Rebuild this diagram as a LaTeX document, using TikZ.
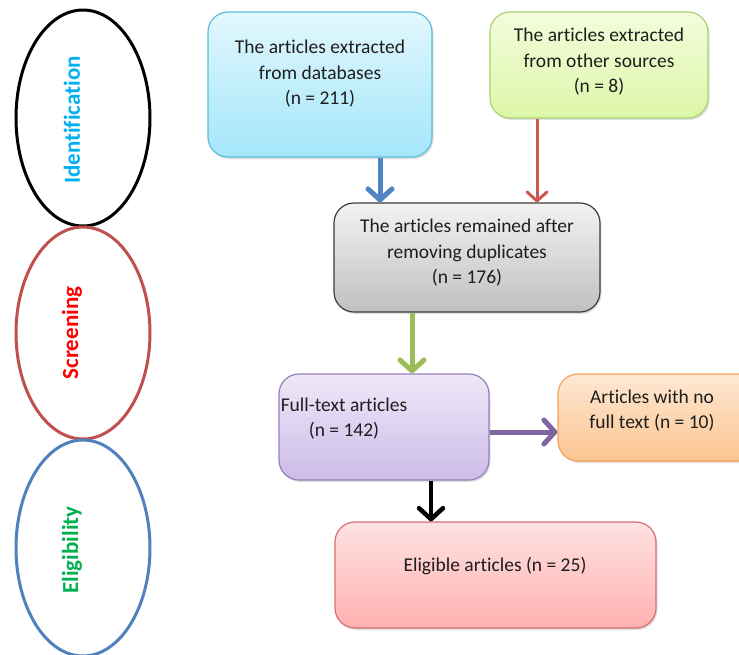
\documentclass[tikz,border=0pt]{standalone}
\usepackage{fontspec}
\setmainfont{Carlito}[Ligatures=NoCommon, RawFeature={-liga;-dlig;-clig}]
\usetikzlibrary{arrows.meta,shadows}
\definecolor{txt}{HTML}{1E1E1E}
\begin{document}
\begin{tikzpicture}[x=1pt,y=-1pt,
  box/.style={rounded corners=20pt, line width=1.2pt, inner sep=0pt,
    drop shadow={shadow xshift=1.5pt, shadow yshift=-2pt, fill=black!35, opacity=0.35}},
  btxt/.style={align=center, text=txt, font=\fontsize{19.5}{25.5}\selectfont},
  plab/.style={rotate=90, font=\bfseries\fontsize{23}{26}\selectfont},
  arr/.style={-{Straight Barb[length=11pt,width=24pt,line cap=round,line join=round]}, line width=5pt},
]
\useasboundingbox (0,0) rectangle (739,654);
% phase ellipses
\draw[line width=3pt, black] (83,118) ellipse [x radius=67, y radius=108];
\draw[line width=3pt, color={rgb,255:red,192;green,80;blue,77}] (83,333) ellipse [x radius=67, y radius=106];
\draw[line width=3pt, color={rgb,255:red,79;green,129;blue,189}] (83,548) ellipse [x radius=67, y radius=108];
\node[plab, text={rgb,255:red,0;green,176;blue,240}] (lid) at (72,120) {Identification};
\node[plab, text={rgb,255:red,255;green,0;blue,0}] (lsc) at (72,333) {Screening};
\node[plab, text={rgb,255:red,0;green,176;blue,80}] (lel) at (72,550) {Eligibility};

% boxes
\node[box, minimum width=224pt, minimum height=145pt,
  draw={rgb,255:red,90;green,190;blue,220},
  top color={rgb,255:red,226;green,247;blue,253}, bottom color={rgb,255:red,164;green,230;blue,250}]
  (A) at (320,84.5) {};
\node[btxt] (At) at (320,74) {The articles extracted\\from databases\\(n = 211)};

\node[box, minimum width=218pt, minimum height=106pt,
  draw={rgb,255:red,170;green,210;blue,110},
  top color={rgb,255:red,244;green,252;blue,220}, bottom color={rgb,255:red,220;green,247;blue,168}]
  (B) at (599,65) {};
\node[btxt] (Bt) at (599,62) {The articles extracted\\from other sources\\(n = 8)};

\node[box, minimum width=266pt, minimum height=109pt,
  draw={rgb,255:red,60;green,60;blue,60},
  top color={rgb,255:red,242;green,242;blue,242}, bottom color={rgb,255:red,192;green,192;blue,192}]
  (C) at (467,257.5) {};
\node[btxt] (Ct) at (467,253) {The articles remained after\\removing duplicates\\(n = 176)};

\node[box, minimum width=210pt, minimum height=106pt,
  draw={rgb,255:red,150;green,125;blue,190},
  top color={rgb,255:red,238;green,232;blue,248}, bottom color={rgb,255:red,204;green,188;blue,232}]
  (D) at (384,427) {};
\node[btxt] (Dt) at (344,418.5) {Full-text articles\\(n = 142)};

\node[box, minimum width=200pt, minimum height=87pt,
  draw={rgb,255:red,247;green,160;blue,90},
  top color={rgb,255:red,254;green,232;blue,212}, bottom color={rgb,255:red,251;green,196;blue,143}]
  (E) at (658,417.5) {};
\node[btxt] (Et) at (652,410.5) {Articles with no\\full text (n = 10)};

\node[box, minimum width=321pt, minimum height=106pt,
  draw={rgb,255:red,215;green,110;blue,110},
  top color={rgb,255:red,255;green,226;blue,226}, bottom color={rgb,255:red,255;green,176;blue,176}]
  (F) at (495.5,575) {};
\node[btxt] (Ft) at (495,566) {Eligible articles (n = 25)};

% arrow columns
\coordinate (xa) at (380,0);
\coordinate (xb) at (537,0);
\coordinate (xc) at (412,0);
\coordinate (xd) at (431,0);
\coordinate (yd) at (0,432);

\draw[arr, color={rgb,255:red,80;green,132;blue,196}] (A.south -| xa) -- (C.north -| xa);
\draw[arr, line width=3pt, -{Straight Barb[length=9pt,width=20pt,line cap=round,line join=round]}, color={rgb,255:red,205;green,85;blue,82}] (B.south -| xb) -- (C.north -| xb);
\draw[arr, color={rgb,255:red,155;green,190;blue,90}] (C.south -| xc) -- (D.north -| xc);
\draw[arr, color={rgb,255:red,128;green,100;blue,162}] (D.east |- yd) -- (E.west |- yd);
\draw[arr, line width=4.5pt, black] (D.south -| xd) -- (F.north -| xd);
\end{tikzpicture}
\end{document}
